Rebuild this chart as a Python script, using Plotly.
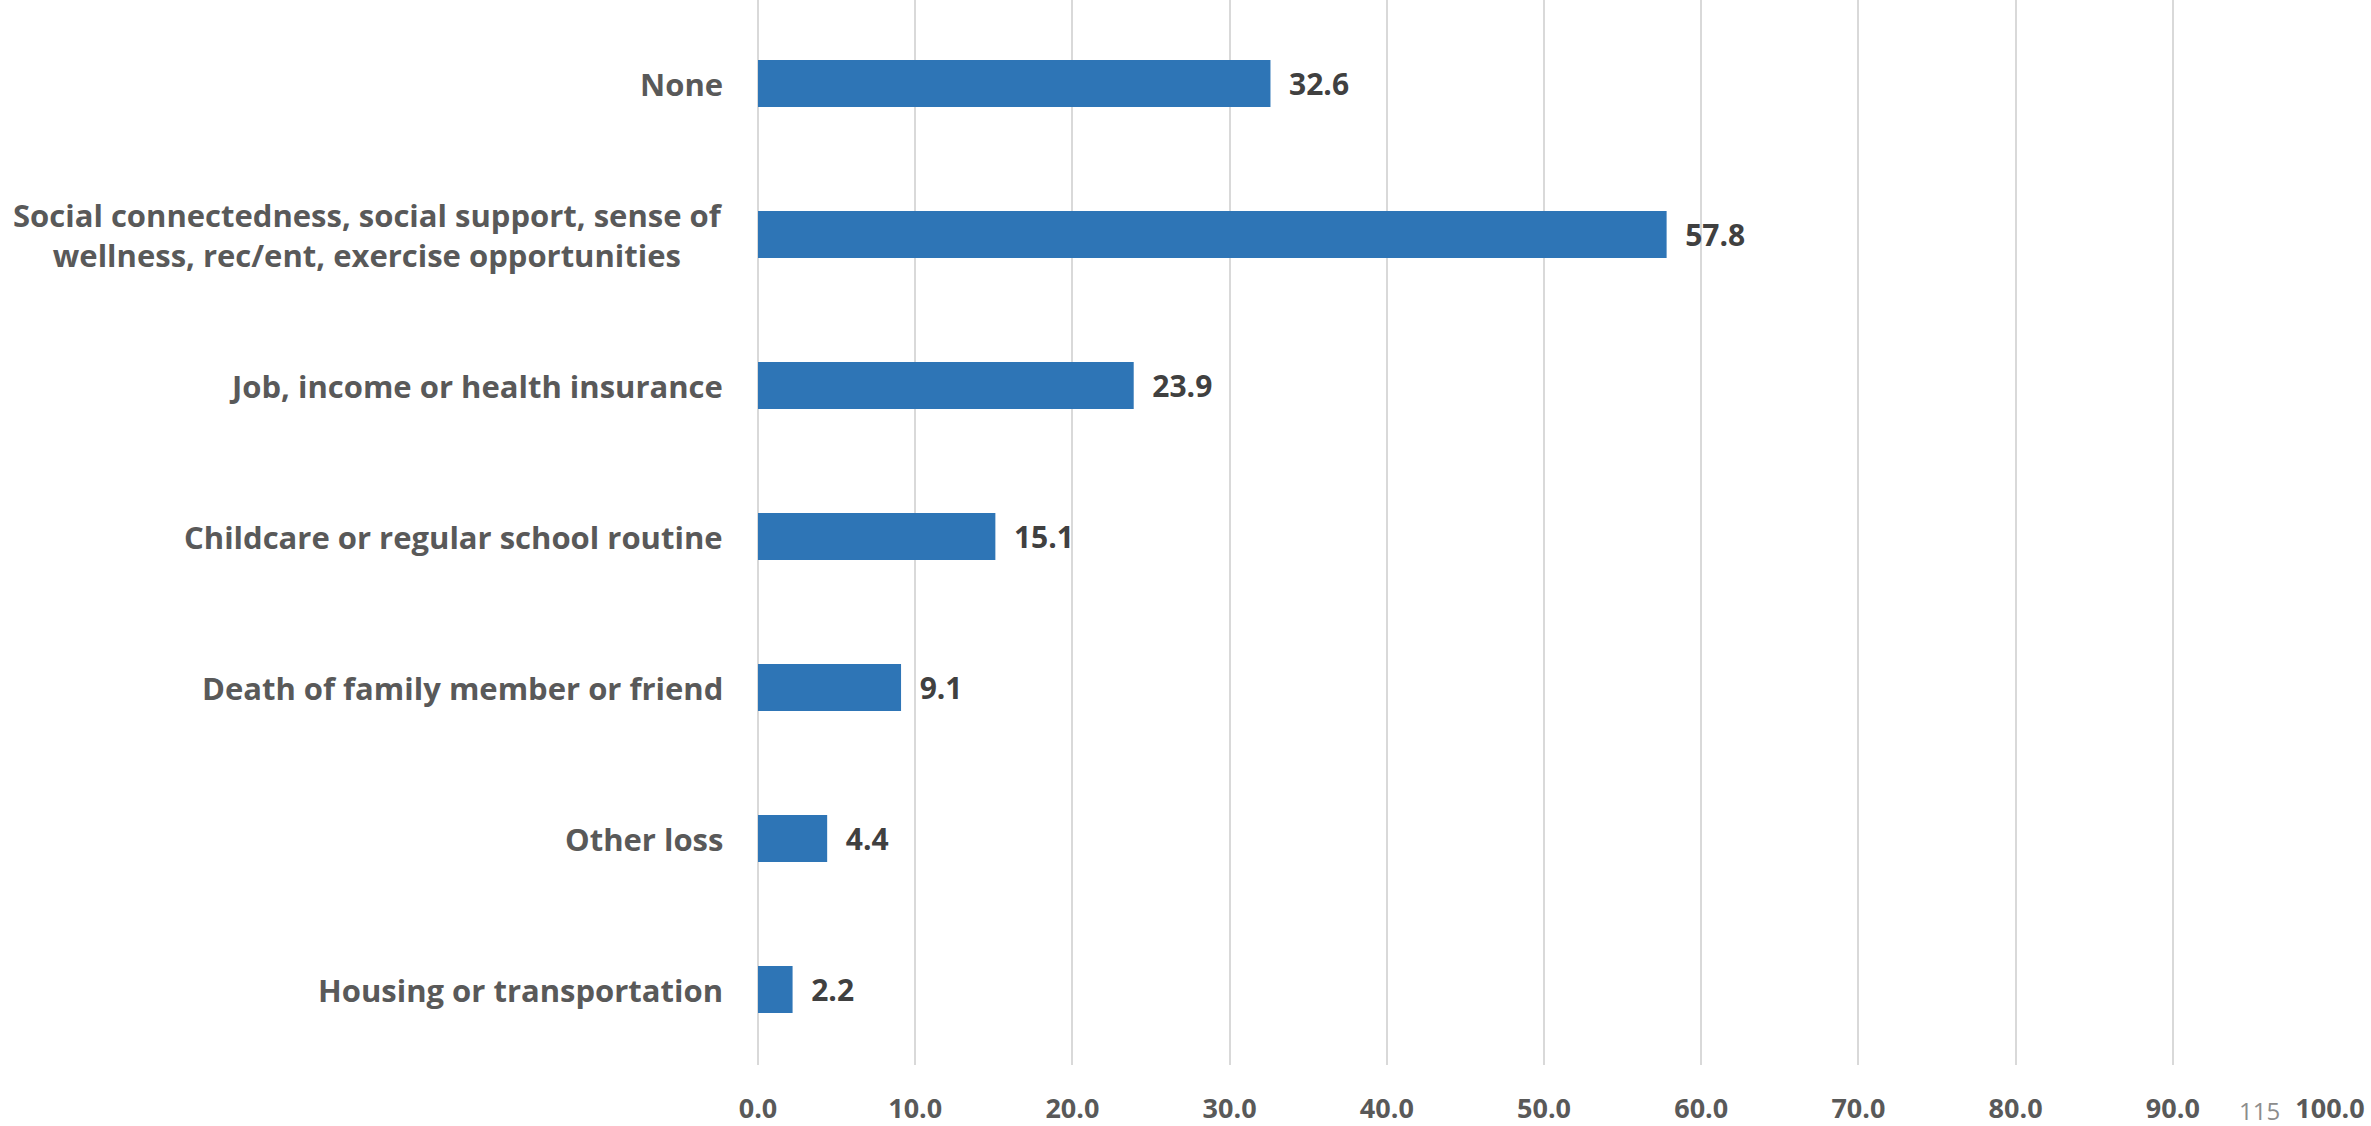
import plotly.graph_objects as go

categories = [
    "None",
    "Social connectedness, social support, sense of<br>wellness, rec/ent, exercise opportunities",
    "Job, income or health insurance",
    "Childcare or regular school routine",
    "Death of family member or friend",
    "Other loss",
    "Housing or transportation",
]
values = [32.6, 57.8, 23.9, 15.1, 9.1, 4.4, 2.2]
tick_vals = [0, 10, 20, 30, 40, 50, 60, 70, 80, 90, 100]
tick_text = ["0.0", "10.0", "20.0", "30.0", "40.0", "50.0", "60.0", "70.0", "80.0", "90.0", "100.0"]
page_number = "115"

W, H = 2371, 1126
ML, MR, MT, MB = 758, 41, 0, 61
FONT = "Open Sans"

fig = go.Figure()
fig.add_trace(go.Bar(
    x=values,
    y=categories,
    orientation="h",
    marker=dict(color="#2E75B6", line=dict(width=0)),
    texttemplate="\u00a0\u00a0%{x:.1f}",
    textposition="outside",
    textfont=dict(family=FONT, size=30, color="#404040", weight="bold"),
    cliponaxis=False,
    hoverinfo="skip",
))

# category labels as annotations (centred multi-line text, right-anchored)
for c in categories:
    fig.add_annotation(
        x=0, xref="paper", y=c, yref="y",
        text="<b>" + c + "</b>",
        showarrow=False,
        xanchor="right", yanchor="middle", align="center",
        xshift=-33,
        font=dict(family=FONT, size=31, color="#595959"),
    )

fig.add_annotation(
    x=(2259 - ML) / (W - ML - MR), xref="paper",
    y=-(1110 - (H - MB)) / (H - MT - MB), yref="paper",
    text=page_number, showarrow=False,
    xanchor="center", yanchor="middle",
    font=dict(family=FONT, size=24, color="#8C8C8C"),
)

fig.update_layout(
    width=W, height=H,
    margin=dict(l=ML, r=MR, t=MT, b=MB, pad=0),
    paper_bgcolor="white", plot_bgcolor="white",
    showlegend=False,
    bargap=0.689,
    xaxis=dict(
        range=[0, 100],
        tickvals=tick_vals, ticktext=tick_text,
        showgrid=True, gridcolor="#D9D9D9", gridwidth=2,
        zeroline=True, zerolinecolor="#D9D9D9", zerolinewidth=2,
        showline=False,
        ticks="outside", ticklen=20, tickcolor="rgba(0,0,0,0)",
        tickfont=dict(family=FONT, size=27, color="#595959", weight="bold"),
        automargin=False,
        fixedrange=True,
    ),
    yaxis=dict(
        range=[6.5, -0.553],
        showticklabels=False, showgrid=False, zeroline=False, showline=False,
        ticks="", automargin=False, fixedrange=True,
    ),
)

fig.write_html(
    "out.html",
    config={"displayModeBar": False},
    post_script="document.body.style.margin='0';document.body.style.overflow='hidden';",
)
